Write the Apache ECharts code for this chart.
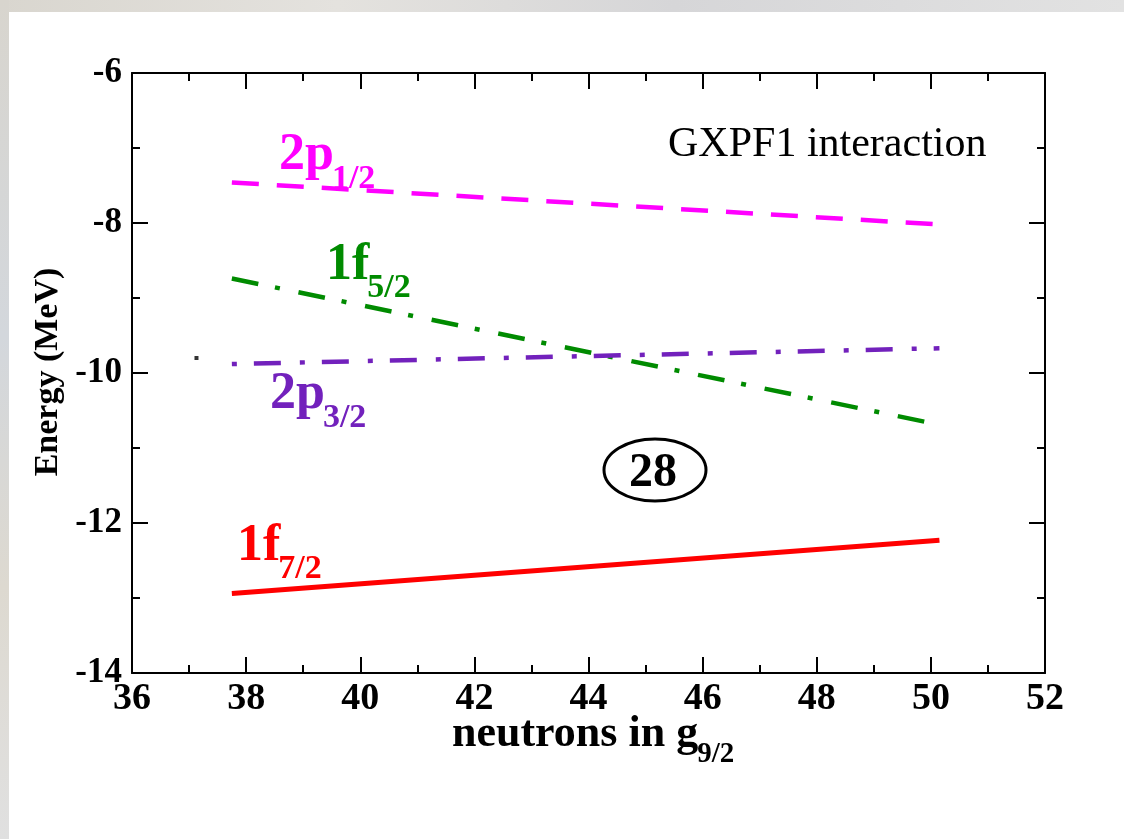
<!DOCTYPE html>
<html>
<head>
<meta charset="utf-8">
<script src="https://cdn.jsdelivr.net/npm/echarts@6/dist/echarts.min.js"></script>
<style>
  html, body { margin: 0; padding: 0; background: #fff; }
  #chart { width: 1124px; height: 839px; }
</style>
</head>
<body>
<div id="chart"></div>
<script>
// Single-particle proton energies vs. number of neutrons in g9/2 (GXPF1)
const neutronRange = [37.75, 50.15];
const p12Energy = [-7.46, -8.02];
const f52Energy = [-8.74, -10.69];
const p32Energy = [-9.88, -9.67];
const f72Energy = [-12.94, -12.23];
const strayPoint = [[37.13, -9.80]];

const xMin = 36, xMax = 52, xStep = 2;
const yMin = -14, yMax = -6, yStep = 2;

const SERIF = '"Liberation Serif", "Times New Roman", serif';
const MAGENTA = '#ff00ff', GREEN = '#008b00', INDIGO = '#7221bc', RED = '#ff0000';

function pairs(xs, ys) { return xs.map((x, i) => [x, ys[i]]); }

const measureCtx = document.createElement('canvas').getContext('2d');
function textWidth(t, font) { measureCtx.font = font; return measureCtx.measureText(t).width; }

// text placed by its baseline
function baseText(text, x, base, size, weight, color, align) {
  return {
    type: 'text', x: x, y: base - 0.305 * size,
    style: { text: text, font: weight + ' ' + size + 'px ' + SERIF, fill: color,
             align: align || 'left', verticalAlign: 'middle' },
    z: 10
  };
}
// main text followed by a lowered subscript
function subLabel(main, sub, x, base, size, subSize, drop, color, kern) {
  const w = textWidth(main, 'bold ' + size + 'px ' + SERIF);
  return [
    baseText(main, x, base, size, 'bold', color),
    baseText(sub, x + w + (kern || 0), base + drop, subSize, 'bold', color)
  ];
}

const chart = echarts.init(document.getElementById('chart'), null, { renderer: 'canvas' });

const tickStyle = { color: '#000', width: 2 };
function xAxisDef(pos, showLabels) {
  return {
    type: 'value', position: pos, min: xMin, max: xMax, interval: xStep,
    axisLine: { show: true, onZero: false, lineStyle: tickStyle },
    axisTick: { show: true, inside: true, length: 16, lineStyle: tickStyle },
    minorTick: { show: true, splitNumber: 2, length: 8, lineStyle: tickStyle },
    splitLine: { show: false },
    axisLabel: { show: showLabels, margin: 7, color: '#000',
                 fontFamily: SERIF, fontWeight: 'bold', fontSize: 38 }
  };
}
function yAxisDef(pos, showLabels) {
  return {
    type: 'value', position: pos, min: yMin, max: yMax, interval: yStep,
    axisLine: { show: true, onZero: false, lineStyle: tickStyle },
    axisTick: { show: true, inside: true, length: 16, lineStyle: tickStyle },
    minorTick: { show: true, splitNumber: 2, length: 8, lineStyle: tickStyle },
    splitLine: { show: false },
    axisLabel: { show: showLabels, margin: 10, color: '#000',
                 fontFamily: SERIF, fontWeight: 'bold', fontSize: 35 }
  };
}

function levelLine(name, ys, color, dash, width) {
  return {
    name: name, type: 'line', xAxisIndex: 0, yAxisIndex: 0,
    data: pairs(neutronRange, ys), showSymbol: false, symbol: 'none',
    silent: true, animation: false,
    lineStyle: { color: color, width: width, type: dash, cap: 'butt' }
  };
}

const graphics = [
  // faded backdrop strips along the top and left edges
  { type: 'rect', shape: { x: 0, y: 0, width: 1124, height: 12 }, z: 0,
    style: { fill: new echarts.graphic.LinearGradient(0, 0, 1, 0, [
      { offset: 0, color: '#d9d6cf' }, { offset: 0.3, color: '#e4e2de' },
      { offset: 0.6, color: '#d6d6d8' }, { offset: 1, color: '#e2e2e2' }]) } },
  { type: 'rect', shape: { x: 0, y: 0, width: 9, height: 839 }, z: 0,
    style: { fill: new echarts.graphic.LinearGradient(0, 0, 0, 1, [
      { offset: 0, color: '#d8d5ce' }, { offset: 0.4, color: '#d3d7dc' },
      { offset: 0.7, color: '#ddd9d0' }, { offset: 1, color: '#e0e0e0' }]) } },

  baseText('GXPF1 interaction', 668, 158, 42, 'normal', '#000'),

  ...subLabel('2p', '1/2', 279, 171, 52, 34, 19, MAGENTA, -2),
  ...subLabel('1f', '5/2', 326, 281, 52, 34, 18, GREEN, -2),
  ...subLabel('2p', '3/2', 270, 410, 52, 34, 19, INDIGO, -2),
  ...subLabel('1f', '7/2', 237, 562, 52, 34, 18, RED, -2),

  { type: 'ellipse', shape: { cx: 655, cy: 470, rx: 51, ry: 31 }, z: 10,
    style: { fill: 'none', stroke: '#000', lineWidth: 3 } },
  baseText('28', 653, 488, 48, 'bold', '#000', 'center'),

  ...subLabel('neutrons in g', '9/2', 452, 748, 44, 29, 15, '#000', -1),
  { type: 'text', x: 48, y: 372, rotation: Math.PI / 2, z: 10,
    style: { text: 'Energy (MeV)', font: 'bold 34px ' + SERIF, fill: '#000',
             align: 'center', verticalAlign: 'middle' } }
];

chart.setOption({
  backgroundColor: '#fff',
  animation: false,
  grid: { left: 132, right: 79, top: 73, bottom: 166, containLabel: false },
  xAxis: [xAxisDef('bottom', true), xAxisDef('top', false)],
  yAxis: [yAxisDef('left', true), yAxisDef('right', false)],
  series: [
    levelLine('2p1/2', p12Energy, MAGENTA, [27, 18], 4.5),
    levelLine('1f5/2', f52Energy, GREEN, [27, 17, 5, 19], 4.5),
    levelLine('2p3/2', p32Energy, INDIGO, [5, 17, 27, 19], 4.5),
    levelLine('1f7/2', f72Energy, RED, 'solid', 5),
    { name: 'point', type: 'scatter', data: strayPoint, symbol: 'rect',
      symbolSize: 4, itemStyle: { color: '#000' }, silent: true }
  ],
  graphic: graphics
});
</script>
</body>
</html>
